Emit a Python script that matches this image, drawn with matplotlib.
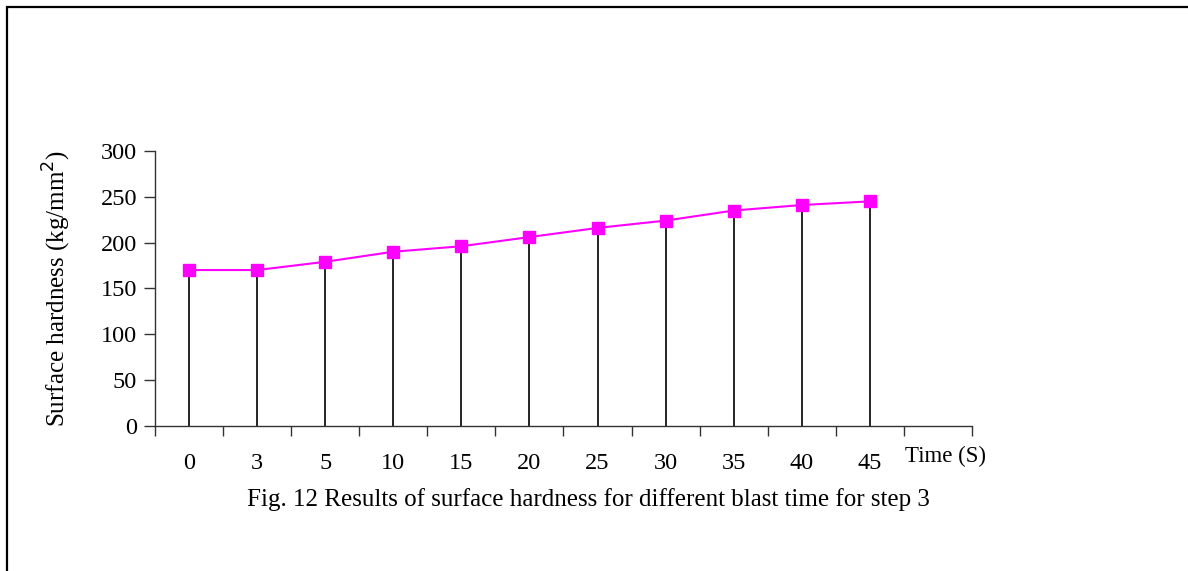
import numpy as np
import matplotlib
matplotlib.use("Agg")
import matplotlib.pyplot as plt
from matplotlib.patches import Rectangle

plt.rcParams["font.family"] = ["Liberation Serif", "DejaVu Serif"]

# blast time categories and measured surface hardness
times = ["0", "3", "5", "10", "15", "20", "25", "30", "35", "40", "45"]
hardness = [170, 170, 179, 190, 196, 206, 216, 224, 235, 241, 245]

fig = plt.figure(figsize=(11.88, 5.71), dpi=100)
W, H = 1188, 571

# outer frame (only top and left edges are inside the picture)
fig.patches.append(Rectangle((7 / W, -0.1), 1.2, 1 - 7 / H + 0.1, transform=fig.transFigure,
                             fill=False, edgecolor="black", linewidth=1.6))

ax = fig.add_axes([155 / W, 1 - 425.7 / H, (972 - 155) / W, (425.7 - 151) / H])
x = np.arange(len(times))

ax.vlines(x, 0, hardness, color="black", linewidth=1.2)
ax.plot(x, hardness, color="#FF00FF", linewidth=1.5, marker="s", markersize=8.5,
        markerfacecolor="#FF00FF", markeredgecolor="#FF00FF", zorder=3)

ax.set_xlim(-0.5, len(times) + 0.5)
ax.set_ylim(0, 300)
ax.set_yticks(range(0, 301, 50))
ax.set_xticks(x)
ax.set_xticklabels(times)
ax.set_xticks(np.arange(-0.5, len(times) + 1, 1), minor=True)
ax.tick_params(axis="x", which="major", length=0, pad=20, labelsize=17.5)
ax.tick_params(axis="x", which="minor", length=7, direction="out", width=1, color="#333333")
ax.tick_params(axis="y", length=8, width=1, pad=5, labelsize=17.5, color="#333333")

for s in ["top", "right"]:
    ax.spines[s].set_visible(False)
for s in ["left", "bottom"]:
    ax.spines[s].set_color("#333333")
    ax.spines[s].set_linewidth(1)

ax.set_ylabel("Surface hardness (kg/mm$^2$)", fontsize=18)
ax.yaxis.set_label_coords(-(155 - 73) / (972 - 155), 0.5)

fig.text(905 / W, 1 - 456 / H, "Time (S)", fontsize=16.5, ha="left", va="center")
fig.text(588 / W, 1 - 500 / H,
         "Fig. 12 Results of surface hardness for different blast time for step 3",
         fontsize=18, ha="center", va="center")

fig.savefig("out.png", dpi=100)
